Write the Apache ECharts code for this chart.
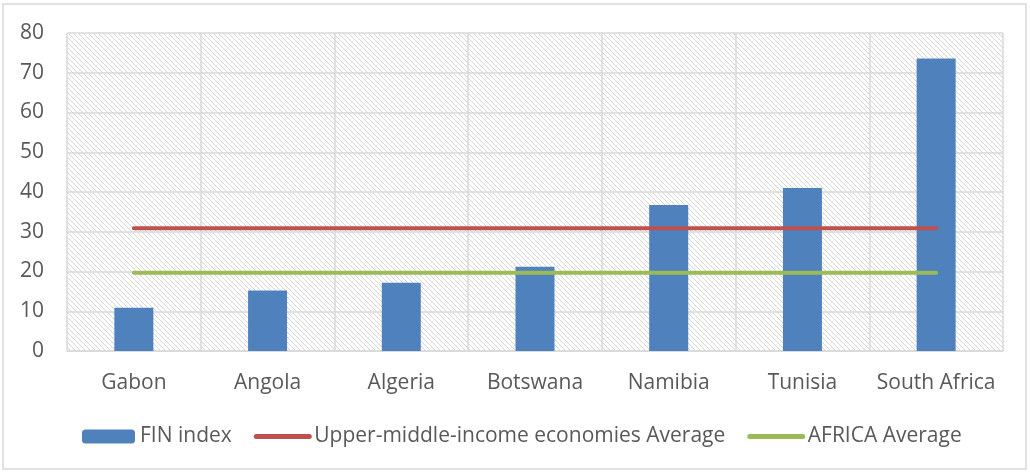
<!DOCTYPE html>
<html lang="en">
<head>
<meta charset="UTF-8">
<script src="https://cdn.jsdelivr.net/npm/echarts@6/dist/echarts.min.js"></script>
<title>FIN index</title>
<style>
  body { margin: 0; background: #fff; }
  #main { width: 1030px; height: 473px; }
</style>
</head>
<body>
<div id="main"></div>
<script type="text/javascript">
var countries = ['Gabon', 'Angola', 'Algeria', 'Botswana', 'Namibia', 'Tunisia', 'South Africa'];
var finIndex = [10.9, 15.2, 17.2, 21.2, 36.7, 41.0, 73.6];
var upperMiddleAvg = [30.9, 30.9, 30.9, 30.9, 30.9, 30.9, 30.9];
var africaAvg = [19.7, 19.7, 19.7, 19.7, 19.7, 19.7, 19.7];

// hatched plot background (light downward diagonal)
function hatch() {
    var s = 5;
    var c = document.createElement('canvas');
    c.width = s; c.height = s;
    var ctx = c.getContext('2d');
    ctx.fillStyle = '#ffffff';
    ctx.fillRect(0, 0, s, s);
    ctx.fillStyle = '#d6d6d6';
    for (var y = 0; y < s; y++) {
        for (var x = 0; x < s; x++) {
            if ((x - y + s) % s === 0) ctx.fillRect(x, y, 1, 1);
        }
    }
    return c;
}

var font = '"Open Sans", sans-serif';
var fs = 21;
var chart = echarts.init(document.getElementById('main'));
chart.setOption({
    animation: false,
    textStyle: { fontFamily: font },
    graphic: [{
        type: 'rect',
        shape: { x: 3, y: 4, width: 1023, height: 465 },
        style: { fill: 'none', stroke: '#d9d9d9', lineWidth: 1.5 }
    }],
    grid: {
        left: 67, right: 27, top: 33, bottom: 122,
        show: true,
        borderWidth: 0,
        backgroundColor: { image: hatch(), repeat: 'repeat' }
    },
    legend: {
        bottom: 21,
        left: 77,
        itemWidth: 53,
        itemHeight: 14,
        itemGap: 22,
        textStyle: { fontSize: fs, color: '#595959', fontFamily: font },
        data: [
            { name: 'FIN index' },
            { name: 'Upper-middle-income economies Average', itemStyle: { opacity: 0 }, lineStyle: { width: 5 } },
            { name: 'AFRICA Average', itemStyle: { opacity: 0 }, lineStyle: { width: 5 } }
        ]
    },
    xAxis: {
        type: 'category',
        data: countries,
        axisLine: { lineStyle: { color: '#d9d9d9', width: 1.5 } },
        axisTick: { interval: 0, length: 7, lineStyle: { color: '#d9d9d9', width: 1.5 } },
        splitLine: { show: true, interval: 0, lineStyle: { color: '#d9d9d9', width: 1.5 } },
        axisLabel: { interval: 0, fontSize: fs, color: '#595959', margin: 22, fontFamily: font }
    },
    yAxis: {
        type: 'value',
        min: 0, max: 80, interval: 10,
        axisLine: { show: false },
        axisTick: { show: false },
        splitLine: { lineStyle: { color: '#d9d9d9', width: 1.5 } },
        axisLabel: { fontSize: fs, color: '#595959', margin: 23, fontFamily: font }
    },
    series: [{
        name: 'FIN index',
        type: 'bar',
        data: finIndex,
        barWidth: 39,
        itemStyle: { color: '#4f81bd' }
    }, {
        name: 'Upper-middle-income economies Average',
        type: 'line',
        data: upperMiddleAvg,
        symbol: 'none',
        lineStyle: { color: '#c0504d', width: 4, cap: 'round' },
        itemStyle: { color: '#c0504d' }
    }, {
        name: 'AFRICA Average',
        type: 'line',
        data: africaAvg,
        symbol: 'none',
        lineStyle: { color: '#9bbb59', width: 4, cap: 'round' },
        itemStyle: { color: '#9bbb59' }
    }]
});
</script>
</body>
</html>
